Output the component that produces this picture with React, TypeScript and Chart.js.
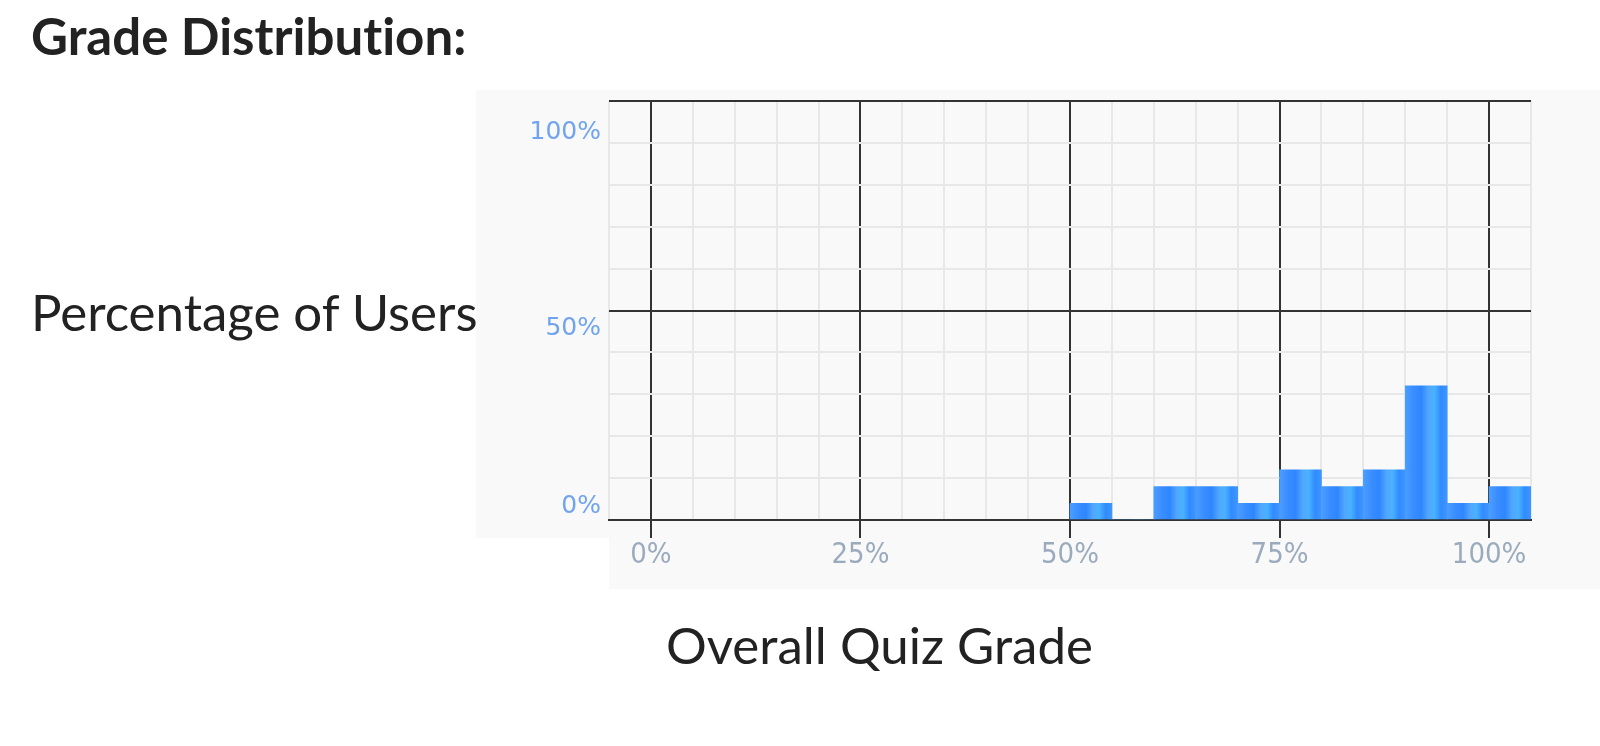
import React, { useEffect, useRef } from "react";
import { Chart, registerables } from "chart.js";

Chart.register(...registerables);

// ---- data ----
const binStarts = [50, 55, 60, 65, 70, 75, 80, 85, 90, 95, 100];
const userPercent = [4, 0, 8, 8, 4, 12, 8, 12, 32, 4, 8];
const binWidth = 5;
const xMajorTicks = [0, 25, 50, 75, 100];
const yLabelValues = [0, 50, 100];
const yLabelTexts = ["0%", "50%", "100%"];
const titleText = "Grade Distribution:";
const yTitleText = "Percentage of Users";
const xTitleText = "Overall Quiz Grade";

const DARK = "#333333";
const LIGHT = "#e8e8e8";

function barGradient(ctx: any) {
  if (ctx.type !== "data") return "#3a90ff";
  const chart = ctx.chart;
  const xs = chart.scales && chart.scales.x;
  if (!xs || !chart.chartArea) return "#3a90ff";
  const start = binStarts[ctx.dataIndex];
  const x0 = xs.getPixelForValue(start);
  const x1 = xs.getPixelForValue(start + binWidth);
  const g = chart.ctx.createLinearGradient(x0, 0, x1, 0);
  g.addColorStop(0, "#4a9eff");
  g.addColorStop(0.2, "#3a8dff");
  g.addColorStop(0.38, "#2e86ff");
  g.addColorStop(0.55, "#52a6ff");
  g.addColorStop(0.7, "#48b2ff");
  g.addColorStop(0.85, "#318bff");
  g.addColorStop(1, "#3d96ff");
  return g;
}

const yLabelPlugin = {
  id: "yLabelPlugin",
  afterDraw(chart: any) {
    const ys = chart.scales.y;
    const ctx = chart.ctx;
    const nudge: Record<number, number> = { 0: -14, 50: 18, 100: 31 };
    ctx.save();
    ctx.font = "25px 'DejaVu Sans'";
    ctx.fillStyle = "#70a4f0";
    ctx.textAlign = "right";
    ctx.textBaseline = "middle";
    yLabelValues.forEach((v, i) => {
      ctx.fillText(yLabelTexts[i], chart.chartArea.left - 8, ys.getPixelForValue(v) + (nudge[v] || 0));
    });
    ctx.restore();
  },
};

export default function App() {
  const canvasRef = useRef<HTMLCanvasElement | null>(null);

  useEffect(() => {
    if (!canvasRef.current) return;
    const chart = new Chart(canvasRef.current, {
      type: "bar",
      data: {
        datasets: [
          {
            data: binStarts.map((s, i) => ({ x: s + binWidth / 2, y: userPercent[i] })),
            backgroundColor: barGradient,
            borderWidth: 0,
            barPercentage: 1,
            categoryPercentage: 1,
            grouped: false,
          },
        ],
      },
      options: {
        responsive: false,
        animation: false,
        layout: { padding: { left: 609, right: 69, top: 101, bottom: 166 } },
        plugins: { legend: { display: false }, tooltip: { enabled: false } },
        scales: {
          x: {
            type: "linear",
            min: -5,
            max: 105,
            offset: false,
            afterFit: (s: any) => {
              s.height = 60;
            },
            border: { display: true, color: DARK, width: 2 },
            grid: {
              offset: false,
              color: (c: any) => (xMajorTicks.includes(c.tick?.value) ? DARK : LIGHT),
              lineWidth: 2,
              tickColor: (c: any) => (xMajorTicks.includes(c.tick?.value) ? DARK : "rgba(0,0,0,0)"),
              tickLength: 18,
              tickWidth: 2,
            },
            ticks: {
              stepSize: 5,
              autoSkip: false,
              maxRotation: 0,
              padding: 0,
              color: "#9aabbd",
              font: { family: "'DejaVu Sans Condensed', 'DejaVu Sans'", size: 29 },
              callback: (v: any) => (xMajorTicks.includes(Number(v)) ? `${v}%` : ""),
            },
          },
          y: {
            type: "linear",
            min: 0,
            max: 100,
            afterFit: (s: any) => {
              s.width = 0;
            },
            border: { display: false },
            grid: {
              color: (c: any) => (c.tick?.value === 50 || c.tick?.value === 100 ? DARK : LIGHT),
              lineWidth: 2,
              drawTicks: false,
            },
            ticks: { display: false, stepSize: 10 },
          },
        },
      },
      plugins: [yLabelPlugin],
    });
    return () => chart.destroy();
  }, []);

  const textBase: React.CSSProperties = {
    position: "absolute",
    fontFamily: "Lato, sans-serif",
    color: "#222222",
    lineHeight: 1,
    whiteSpace: "nowrap",
    margin: 0,
    fontVariantLigatures: "none",
    fontFeatureSettings: '"liga" 0',
  };

  return (
    <div style={{ position: "absolute", left: 0, top: 0, width: 1600, height: 746, background: "#ffffff", overflow: "hidden" }}>
      <div style={{ position: "absolute", left: 476, top: 90, width: 1124, height: 448, background: "#f9f9f9" }} />
      <div style={{ position: "absolute", left: 609, top: 520, width: 991, height: 69, background: "#f9f9f9" }} />
      <div style={{ ...textBase, left: 31, top: 10, fontSize: 51, fontWeight: 700 }}>{titleText}</div>
      <div style={{ ...textBase, left: 31, top: 286, fontSize: 51 }}>{yTitleText}</div>
      <div style={{ ...textBase, left: 666, top: 619, fontSize: 51 }}>{xTitleText}</div>
      <canvas ref={canvasRef} width={1600} height={746} style={{ position: "absolute", left: 0, top: 0, width: 1600, height: 746 }} />
    </div>
  );
}
